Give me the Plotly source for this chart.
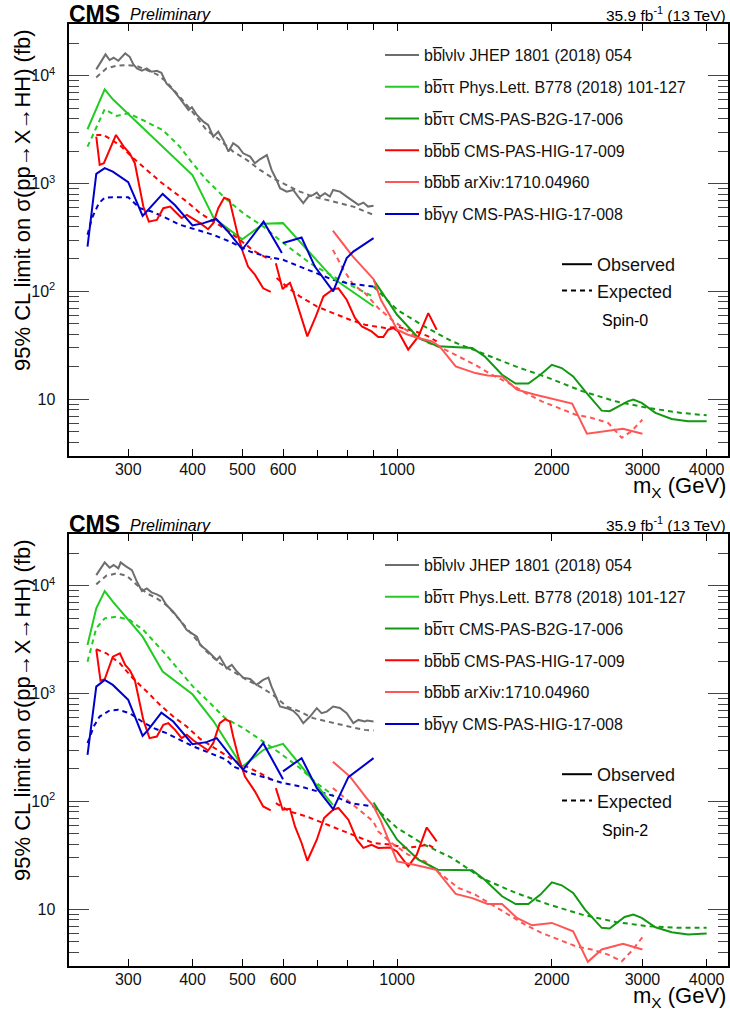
import math
import plotly.graph_objects as go

# ---------------- Spin-0 ----------------
S0_BBLVLV_OBS_M = [260, 271, 276, 281, 287, 296, 302, 307, 312, 319, 326, 333, 341, 348, 356, 367, 378, 387, 393, 399,
                   408, 420, 429, 439, 449, 459, 470, 480, 491, 502, 518, 529, 541, 558, 570, 583, 592, 610, 628, 642,
                   657, 672, 687, 698, 708, 724, 740, 751, 774, 798, 822, 841, 860, 878, 900]
S0_BBLVLV_OBS = [11460, 15780, 13980, 14680, 13770, 16120, 14990, 12750, 11710, 11130, 11710, 10890, 11130, 10660, 8500,
                 7370, 6180, 5240, 4810, 5100, 4330, 3750, 3500, 2720, 3030, 2540, 1980, 2370, 2200, 1910, 1780, 1545,
                 1680, 1840, 1340, 1080, 907, 843, 874, 758, 658, 758, 786, 825, 758, 815, 758, 874, 843, 758, 681, 635,
                 667, 612, 622]
S0_BBLVLV_EXP_M = [260, 272, 285, 298, 312, 326, 341, 356, 378, 402, 426, 452, 480, 510, 541, 574, 610, 647, 687, 730,
                   774, 822, 900]
S0_BBLVLV_EXP = [9660, 11700, 12380, 12560, 12300, 11300, 10310, 8790, 6390, 4490, 3140, 2540, 1980, 1660, 1340, 1120,
                 972, 843, 758, 706, 658, 612, 513]

S0_BBTT_OBS_M = [250, 270, 280, 400, 440, 500, 550, 600, 750, 900]
S0_BBTT_OBS = [3190, 7480, 6050, 1200, 479, 305, 424, 430, 133, 73]
S0_BBTT_EXP_M = [250, 270, 285, 300, 320, 350, 378, 400, 426, 463, 502, 549, 596, 677, 751, 900]
S0_BBTT_EXP = [2200, 4890, 4240, 4490, 3890, 3140, 2200, 1545, 1082, 732, 532, 400, 290, 183, 138, 89]

S0_BBTT_B_OBS_M = [900, 1000, 1100, 1200, 1400, 1480, 1600, 1700, 1800, 1900, 2000, 2090, 2200, 2320, 2500, 2590,
                   2810, 2880, 2990, 3180, 3420, 3680, 4000]
S0_BBTT_B_OBS = [128, 60.8, 37, 31, 29.9, 25, 16.9, 14, 14, 16.9, 20.9, 19.5, 16.3, 11.9, 7.85, 7.75, 9.58, 9.94,
                 9.26, 7.48, 6.58, 6.25, 6.25]
S0_BBTT_B_EXP_M = [900, 1000, 1130, 1280, 1460, 1700, 1970, 2290, 2660, 3070, 3570, 4000]
S0_BBTT_B_EXP = [111, 67.6, 47.4, 34.4, 26.9, 20.2, 15.8, 11.9, 9.58, 8.32, 7.48, 7.11]

S0_BBBB_LM_OBS_M = [260, 264, 269, 284, 294, 302, 309, 321, 329, 341, 351, 362, 370, 381, 390, 402, 414, 429, 439,
                    449, 461, 472, 480, 491, 502, 513, 529, 549, 568]
S0_BBBB_LM_OBS = [2723, 1490, 1546, 2825, 2203, 1910, 1546, 613, 444, 461, 592, 613, 551, 479, 513, 468, 430, 378,
                  430, 592, 741, 707, 494, 321, 227, 170, 143, 107, 99]
S0_BBBB_HM_OBS_M = [581, 599, 608, 619, 628, 669, 695, 719, 751, 769, 798, 828, 854, 866, 892, 919, 940, 961, 983,
                    1005, 1051, 1100, 1150, 1194]
S0_BBBB_HM_OBS = [183, 105, 113, 120, 100, 38.3, 58.7, 90, 105, 107, 83.8, 56.8, 47.4, 45.8, 42.6, 37.8, 37.8, 44.2,
                  45.8, 42.6, 28.9, 38.3, 63, 44.2]
S0_BBBB_LM_EXP_M = [260, 268, 279, 291, 307, 326, 346, 367, 390, 414, 439, 466, 495, 525, 557, 570]
S0_BBBB_LM_EXP = [2830, 2830, 2541, 2203, 1718, 1339, 1045, 844, 681, 532, 444, 373, 300, 240, 205, 200]
S0_BBBB_HM_EXP_M = [583, 610, 647, 698, 751, 810, 866, 947, 1005, 1051, 1100, 1150, 1194]
S0_BBBB_HM_EXP = [133, 111, 90, 72.6, 63, 54.7, 49.2, 45.8, 46.9, 44.2, 41.7, 38.3, 34.4]

S0_BBBB_B_OBS_M = [750, 820, 900, 930, 970, 1000, 1050, 1100, 1170, 1210, 1300, 1420, 1500, 1600, 1710, 1850, 2190,
                   2340, 2750, 3000]
S0_BBBB_B_OBS = [367, 211, 130, 83.8, 58.7, 44.2, 39.7, 37, 34.4, 30.9, 20.2, 17.5, 16.6, 16.3, 12.3, 11.1, 9.13,
                 4.79, 5.32, 4.79]
S0_BBBB_B_EXP_M = [750, 787, 822, 866, 919, 976, 1051, 1133, 1221, 1315, 1418, 1528, 1645, 1774, 1911, 2060, 2226,
                   2391, 2573, 2735, 2857, 3000]
S0_BBBB_B_EXP = [243, 159, 115, 96.6, 70.2, 54.7, 42.6, 34.4, 29.9, 25, 20.9, 16.9, 14.2, 11.5, 9.58, 8.32, 7.2,
                 6.72, 6.04, 4.4, 5.06, 6.49]

S0_BBGG_LM_OBS_M = [250, 260, 270, 280, 300, 320, 350, 370, 400, 420, 445, 470, 500, 550, 597]
S0_BBGG_LM_OBS = [261, 1230, 1390, 1290, 1030, 502, 802, 630, 410, 430, 470, 355, 245, 444, 227]
S0_BBGG_HM_OBS_M = [600, 652, 692, 751, 798, 822, 900]
S0_BBGG_HM_OBS = [281, 316, 170, 100, 204, 234, 312]
S0_BBGG_EXP_M = [250, 255, 263, 270, 285, 300, 316, 333, 351, 378, 408, 439, 473, 518, 557, 600, 647, 697, 751, 810,
                 900]
S0_BBGG_EXP = [335, 478, 657, 741, 748, 748, 592, 551, 494, 415, 373, 335, 290, 234, 211, 197, 170, 148, 128, 118, 111]

# ---------------- Spin-2 ----------------
S2_BBLVLV_OBS_M = [260, 270, 276, 281, 287, 290, 296, 305, 312, 319, 326, 333, 341, 348, 356, 367, 378, 390, 399, 408,
                   414, 426, 436, 446, 452, 466, 477, 488, 502, 518, 533, 549, 562, 570, 583, 592, 610, 628, 642, 657,
                   677, 698, 713, 730, 751, 774, 798, 822, 841, 866, 873, 900]
S2_BBLVLV_OBS = [12560, 16480, 14690, 15560, 14490, 16480, 15310, 13960, 10880, 8930, 9460, 8690, 8320, 7910, 6620,
                 5740, 4810, 3890, 3620, 3370, 2825, 2541, 2282, 2051, 2203, 1718, 1845, 1600, 1407, 1368, 1204, 1339,
                 1407, 1161, 906, 759, 733, 692, 626, 532, 613, 733, 659, 681, 759, 735, 659, 532, 570, 551, 562, 551]
S2_BBLVLV_EXP_M = [260, 272, 285, 298, 312, 326, 341, 356, 378, 402, 426, 452, 480, 510, 541, 574, 610, 647, 687, 730,
                   774, 822, 866, 900]
S2_BBLVLV_EXP = [10300, 12390, 13030, 12390, 10140, 8510, 7640, 6620, 4810, 3370, 2449, 1910, 1600, 1339, 1161, 973,
                 759, 681, 592, 551, 513, 484, 461, 454]

S2_BBTT_OBS_M = [250, 260, 270, 280, 320, 350, 400, 440, 500, 550, 600, 750]
S2_BBTT_OBS = [2825, 6170, 8930, 7110, 3370, 1600, 986, 551, 210, 301, 342, 93]
S2_BBTT_EXP_M = [250, 260, 270, 285, 302, 321, 351, 378, 401, 426, 463, 502, 549, 592, 647, 697, 750]
S2_BBTT_EXP = [1977, 4040, 4990, 5160, 4810, 3890, 2449, 1600, 1161, 880, 592, 479, 359, 281, 204, 148, 115]

S2_BBTT_B_OBS_M = [900, 1000, 1100, 1200, 1400, 1480, 1600, 1700, 1800, 1900, 2000, 2090, 2200, 2320, 2500, 2590,
                   2770, 2880, 2990, 3180, 3420, 3680, 4000]
S2_BBTT_B_OBS = [97.9, 44.2, 28.8, 23.3, 23, 18.8, 13.2, 11.2, 11.2, 13.7, 17.8, 16.7, 14.2, 9.94, 6.73, 6.63, 8.5,
                 8.93, 8.32, 6.81, 6.12, 5.83, 5.96]
S2_BBTT_B_EXP_M = [900, 1000, 1130, 1280, 1460, 1700, 1970, 2290, 2660, 3070, 3570, 4000]
S2_BBTT_B_EXP = [90, 56.8, 39.7, 29.9, 19.5, 14.2, 11.1, 8.93, 7.64, 6.96, 6.73, 6.73]

S2_BBBB_LM_OBS_M = [260, 265, 270, 280, 289, 296, 302, 309, 321, 330, 341, 351, 359, 370, 381, 390, 402, 414, 429,
                    439, 452, 463, 473, 480, 491, 506, 518, 529, 549, 568]
S2_BBBB_LM_OBS = [2576, 1318, 1358, 2203, 2366, 1845, 1656, 1339, 570, 386, 400, 513, 532, 461, 386, 415, 367, 335,
                  297, 347, 532, 579, 551, 400, 261, 170, 143, 124, 90, 82.6]
S2_BBBB_HM_OBS_M = [581, 599, 619, 633, 652, 669, 698, 721, 751, 769, 804, 835, 860, 892, 919, 969, 999, 1051, 1092,
                    1142, 1194]
S2_BBBB_HM_OBS = [133, 83.8, 85.5, 58.7, 41.2, 28.2, 44.2, 70.2, 83.8, 86.9, 67.8, 44.2, 37.1, 39.7, 37.1, 37.5, 34.4,
                  25, 32.1, 57.4, 42.6]
S2_BBBB_LM_EXP_M = [260, 272, 289, 306, 326, 346, 367, 390, 414, 446, 480, 558, 570]
S2_BBBB_LM_EXP = [2576, 2366, 1910, 1390, 1045, 785, 613, 494, 380, 301, 243, 170, 159]
S2_BBBB_HM_EXP_M = [581, 619, 667, 719, 774, 835, 899, 976, 1036, 1100, 1150, 1194]
S2_BBBB_HM_EXP = [96.6, 80.7, 72.6, 63, 54.7, 47.4, 41.2, 39.7, 37.1, 38.3, 39.7, 35.7]

S2_BBBB_B_OBS_M = [750, 810, 873, 900, 930, 970, 1000, 1080, 1190, 1300, 1400, 1500, 1600, 1710, 1830, 2000, 2200,
                   2350, 2500, 2750, 3000]
S2_BBBB_B_OBS = [234, 170, 107, 90, 66, 40, 27.8, 25.9, 23.3, 13.9, 12.7, 11.2, 11.2, 8.32, 7.11, 7.48, 6.25, 3.26,
                 4.24, 4.79, 4.24]
S2_BBBB_B_EXP_M = [750, 798, 847, 899, 919, 976, 1051, 1133, 1221, 1315, 1418, 1528, 1645, 1774, 1911, 2060, 2226,
                   2391, 2573, 2735, 2857, 3000]
S2_BBBB_B_EXP = [133, 104, 83.8, 65.3, 52.7, 41.2, 32.1, 27.8, 20.9, 15.8, 13.7, 11.1, 8.93, 7.2, 6.04, 5.24, 4.54,
                 4.24, 3.8, 3.3, 4.09, 5.51]

S2_BBGG_LM_OBS_M = [250, 260, 270, 280, 300, 320, 328, 348, 367, 400, 426, 446, 473, 502, 549, 600]
S2_BBGG_LM_OBS = [270, 1161, 1339, 1204, 875, 405, 461, 667, 551, 340, 355, 386, 270, 197, 347, 161]
S2_BBGG_HM_OBS_M = [600, 652, 698, 751, 804, 900]
S2_BBGG_HM_OBS = [190, 252, 133, 85, 168, 252]
S2_BBGG_EXP_M = [250, 257, 264, 276, 287, 302, 319, 336, 356, 378, 402, 433, 466, 480, 518, 558, 600, 647, 698, 751,
                 810, 900]
S2_BBGG_EXP = [347, 494, 613, 697, 707, 658, 551, 479, 430, 373, 323, 281, 243, 211, 183, 165, 148, 138, 124, 113,
               96.6, 90]

# ---------------- labels / ticks ----------------
LEGEND_NAMES = [
    "bb\u0305l\u03bdl\u03bd JHEP 1801 (2018) 054",
    "bb\u0305\u03c4\u03c4 Phys.Lett. B778 (2018) 101-127",
    "bb\u0305\u03c4\u03c4 CMS-PAS-B2G-17-006",
    "bb\u0305bb\u0305 CMS-PAS-HIG-17-009",
    "bb\u0305bb\u0305 arXiv:1710.04960",
    "bb\u0305\u03b3\u03b3 CMS-PAS-HIG-17-008",
]
COLORS = ["#6e6e6e", "#22cc22", "#119911", "#ff0000", "#ff5555", "#0000cc"]
X_TICKS = [300, 400, 500, 600, 1000, 2000, 3000, 4000]
X_MINOR = [700, 800, 900]
X_DECADE = [1000]
Y_TICKS = [10, 100, 1000, 10000]
Y_TICKTEXT = ["10", "10<sup>2</sup>", "10<sup>3</sup>", "10<sup>4</sup>"]
Y_MINOR = [m * 10 ** e for e in range(0, 5) for m in range(2, 10) if 3 <= m * 10 ** e <= 30000]

W, H = 730, 1011
FONT = "Liberation Sans, Arial, Helvetica, sans-serif"


def px(x):
    return x / W


def py(y):
    return 1 - y / H


def join(m1, s1, m2, s2):
    return m1 + [None] + m2, s1 + [None] + s2


panels = [
    dict(tag="0", x="x", y="y", leg="legend", leg_oe="legend3", series=[
        (S0_BBLVLV_OBS_M, S0_BBLVLV_OBS, S0_BBLVLV_EXP_M, S0_BBLVLV_EXP),
        (S0_BBTT_OBS_M, S0_BBTT_OBS, S0_BBTT_EXP_M, S0_BBTT_EXP),
        (S0_BBTT_B_OBS_M, S0_BBTT_B_OBS, S0_BBTT_B_EXP_M, S0_BBTT_B_EXP),
        join(S0_BBBB_LM_OBS_M, S0_BBBB_LM_OBS, S0_BBBB_HM_OBS_M, S0_BBBB_HM_OBS)
        + join(S0_BBBB_LM_EXP_M, S0_BBBB_LM_EXP, S0_BBBB_HM_EXP_M, S0_BBBB_HM_EXP),
        (S0_BBBB_B_OBS_M, S0_BBBB_B_OBS, S0_BBBB_B_EXP_M, S0_BBBB_B_EXP),
        join(S0_BBGG_LM_OBS_M, S0_BBGG_LM_OBS, S0_BBGG_HM_OBS_M, S0_BBGG_HM_OBS) + (S0_BBGG_EXP_M, S0_BBGG_EXP),
    ]),
    dict(tag="2", x="x2", y="y2", leg="legend2", leg_oe="legend4", series=[
        (S2_BBLVLV_OBS_M, S2_BBLVLV_OBS, S2_BBLVLV_EXP_M, S2_BBLVLV_EXP),
        (S2_BBTT_OBS_M, S2_BBTT_OBS, S2_BBTT_EXP_M, S2_BBTT_EXP),
        (S2_BBTT_B_OBS_M, S2_BBTT_B_OBS, S2_BBTT_B_EXP_M, S2_BBTT_B_EXP),
        join(S2_BBBB_LM_OBS_M, S2_BBBB_LM_OBS, S2_BBBB_HM_OBS_M, S2_BBBB_HM_OBS)
        + join(S2_BBBB_LM_EXP_M, S2_BBBB_LM_EXP, S2_BBBB_HM_EXP_M, S2_BBBB_HM_EXP),
        (S2_BBBB_B_OBS_M, S2_BBBB_B_OBS, S2_BBBB_B_EXP_M, S2_BBBB_B_EXP),
        join(S2_BBGG_LM_OBS_M, S2_BBGG_LM_OBS, S2_BBGG_HM_OBS_M, S2_BBGG_HM_OBS) + (S2_BBGG_EXP_M, S2_BBGG_EXP),
    ]),
]

DASH = "5px,4px"
fig = go.Figure()

for p in panels:
    for i, (om, os_, em, es) in enumerate(p["series"]):
        # expected (dashed) first so the observed line sits on top
        fig.add_trace(go.Scatter(x=em, y=es, mode="lines", xaxis=p["x"], yaxis=p["y"],
                                 line=dict(color=COLORS[i], width=2, dash=DASH),
                                 connectgaps=False, showlegend=False, hoverinfo="skip"))
    for i, (om, os_, em, es) in enumerate(p["series"]):
        fig.add_trace(go.Scatter(x=om, y=os_, mode="lines", xaxis=p["x"], yaxis=p["y"],
                                 line=dict(color=COLORS[i], width=2), connectgaps=False,
                                 name=LEGEND_NAMES[i], legend=p["leg"],
                                 legendgroup=p["tag"] + "g" + str(i), legendrank=i + 1))
    # observed / expected key
    for j, (nm, dash) in enumerate([("Observed", "solid"), ("Expected", DASH)]):
        fig.add_trace(go.Scatter(x=[None], y=[None], mode="lines", xaxis=p["x"], yaxis=p["y"],
                                 line=dict(color="black", width=2, dash=dash), name=nm,
                                 legend=p["leg_oe"], legendrank=j + 1))

X_RANGE = [math.log10(229.6), math.log10(4395)]
Y_RANGE = [math.log10(3), math.log10(30000)]

TOP = (24.3, 455.7)
BOT = (534.3, 965.7)
XDOM = [px(68.5), px(727.7)]

xaxis_common = dict(
    type="log", range=X_RANGE, domain=XDOM, showline=True, linecolor="black", linewidth=2, mirror="allticks",
    ticks="inside", ticklen=7, tickwidth=1, tickcolor="black", tickmode="array", tickvals=X_TICKS,
    ticktext=[str(v) for v in X_TICKS], tickfont=dict(family=FONT, size=16, color="#111"),
    minor=dict(tickmode="array", tickvals=X_MINOR, ticklen=6, tickwidth=1, tickcolor="black", ticks="inside"),
    showgrid=False, zeroline=False, ticklabelstandoff=-2,
)
# extra overlay axis carrying the longer decade tick
xdecade_common = dict(
    type="log", range=X_RANGE, domain=XDOM, showline=False, mirror="ticks", ticks="inside", ticklen=12,
    tickwidth=1, tickcolor="black", tickmode="array", tickvals=X_DECADE, showticklabels=False,
    showgrid=False, zeroline=False,
)
yaxis_common = dict(
    type="log", range=Y_RANGE, showline=True, linecolor="black", linewidth=2, mirror="allticks",
    ticks="inside", ticklen=20, tickwidth=1, tickcolor="#444", tickmode="array", tickvals=Y_TICKS,
    ticktext=Y_TICKTEXT, tickfont=dict(family=FONT, size=16, color="#111"),
    minor=dict(tickmode="array", tickvals=Y_MINOR, ticklen=10, tickwidth=1, tickcolor="#444", ticks="inside"),
    showgrid=False, zeroline=False, ticklabelstandoff=8,
)

legend_common = dict(xanchor="left", yanchor="top", bgcolor="rgba(0,0,0,0)", borderwidth=0,
                     font=dict(family=FONT, size=16, color="#111"), traceorder="grouped",
                     tracegroupgap=8, itemwidth=34, itemclick=False, itemdoubleclick=False)
oe_common = dict(xanchor="left", yanchor="top", bgcolor="rgba(0,0,0,0)", borderwidth=0,
                 font=dict(family=FONT, size=18, color="#111"), tracegroupgap=0,
                 itemclick=False, itemdoubleclick=False)

fig.update_layout(
    width=W, height=H, margin=dict(l=0, r=0, t=0, b=0), paper_bgcolor="white", plot_bgcolor="white",
    font=dict(family=FONT, color="#111"), hovermode=False,
    xaxis=dict(xaxis_common, anchor="y"),
    yaxis=dict(yaxis_common, domain=[py(TOP[1]), py(TOP[0])], anchor="x"),
    xaxis2=dict(xaxis_common, anchor="y2"),
    yaxis2=dict(yaxis_common, domain=[py(BOT[1]), py(BOT[0])], anchor="x2"),
    xaxis3=dict(xdecade_common, anchor="y", overlaying="x"),
    xaxis4=dict(xdecade_common, anchor="y2", overlaying="x2"),
    legend=dict(legend_common, x=px(380), y=py(38)),
    legend2=dict(legend_common, x=px(380), y=py(38 + 510)),
    legend3=dict(oe_common, x=px(557), y=py(246)),
    legend4=dict(oe_common, x=px(557), y=py(246 + 510)),
)

annotations = []
for off, spin in [(0, "Spin-0"), (510, "Spin-2")]:
    annotations += [
        dict(x=px(67), y=py(14 + off), text="<b>CMS</b>", font=dict(size=23, family=FONT, color="black"),
             xanchor="left", yanchor="middle"),
        dict(x=px(128), y=py(15 + off), text="<i>Preliminary</i>", font=dict(size=16, family=FONT, color="black"),
             xanchor="left", yanchor="middle"),
        dict(x=px(728), y=py(14 + off), text="35.9 fb<sup>-1</sup> (13 TeV)",
             font=dict(size=15.5, family=FONT, color="black"), xanchor="right", yanchor="middle"),
        dict(x=px(625), y=py(320 + off), text=spin, font=dict(size=16, family=FONT, color="black"),
             xanchor="center", yanchor="middle"),
        dict(x=px(728), y=py(487 + off), text="m<sub>X</sub> (GeV)", font=dict(size=22, family=FONT, color="black"),
             xanchor="right", yanchor="middle"),
        dict(x=px(22), y=py(27 + off), text="95% CL limit on \u03c3(pp\u2192X\u2192HH) (fb)", textangle=-90,
             font=dict(size=22, family=FONT, color="black"), xanchor="center", yanchor="top"),
    ]
for a in annotations:
    a.update(xref="paper", yref="paper", showarrow=False)
fig.update_layout(annotations=annotations)

fig.write_html("out.html")
